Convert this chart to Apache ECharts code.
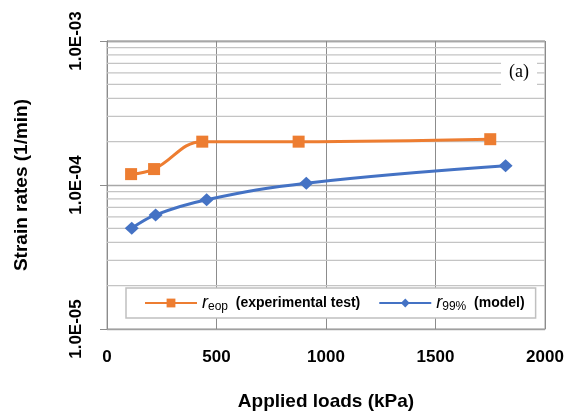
<!DOCTYPE html>
<html>
<head>
<meta charset="utf-8">
<script src="https://cdn.jsdelivr.net/npm/echarts@6/dist/echarts.min.js"></script>
<style>
html,body{margin:0;padding:0;background:#fff;}
#chart{width:566px;height:412px;}
</style>
</head>
<body>
<div id="chart"></div>
<script>
// Data
const eopLoads = [110, 215, 435, 875, 1750];
const eopRates = [1.19e-4, 1.29e-4, 2.0e-4, 2.0e-4, 2.08e-4];
const modelLoads = [113, 222, 455, 910, 1820];
const modelRates = [5.0e-5, 6.2e-5, 7.9e-5, 1.03e-4, 1.36e-4];
const seriesNames = ['eop', '99%'];
const legendTexts = ['(experimental test)', '(model)'];
const minorGrid = [2e-5, 3e-5, 4e-5, 5e-5, 6e-5, 7e-5, 8e-5, 9e-5,
                   2e-4, 3e-4, 4e-4, 5e-4, 6e-4, 7e-4, 8e-4, 9e-4];
const xTicks = {min: 0, max: 2000, interval: 500};
const yRange = {min: 1e-5, max: 1e-3};

const font = 'Liberation Sans';
const chart = echarts.init(document.getElementById('chart'), null, {renderer: 'canvas'});

function fmtExp(v) {
  const e = Math.round(Math.log10(v));
  const sign = e < 0 ? '-' : '+';
  return '1.0E' + sign + String(Math.abs(e)).padStart(2, '0');
}

// light minor grid lines of the log axis, drawn as plain line series
const minorSeries = minorGrid.map(v => ({
  name: 'grid-' + v,
  type: 'line',
  silent: true,
  z: 1,
  symbol: 'none',
  data: [[xTicks.min, v], [xTicks.max, v]],
  lineStyle: {color: '#c4c4c4', width: 1.3},
  emphasis: {disabled: true},
  tooltip: {show: false}
}));

chart.setOption({
  animation: false,
  backgroundColor: '#fff',
  title: {
    text: '(a)',
    right: 29,
    top: 58,
    padding: [5, 8, 6, 8],
    backgroundColor: '#fff',
    textStyle: {fontFamily: 'Liberation Serif', fontWeight: 'normal', fontSize: 18, color: '#000'}
  },
  grid: {
    left: 107, right: 21, top: 41, bottom: 83,
    outerBoundsMode: 'none',
    containLabel: false,
    show: true, borderColor: '#a0a0a0', borderWidth: 1
  },
  legend: {
    data: seriesNames,
    left: 126, top: 288,
    padding: [6, 11, 5, 18],
    itemGap: 18,
    itemWidth: 52, itemHeight: 11,
    backgroundColor: '#fff',
    borderColor: '#c0c0c0', borderWidth: 1.5,
    textStyle: {
      fontFamily: font, fontWeight: 'bold', fontSize: 14, color: '#000',
      rich: {
        r: {fontFamily: font, fontStyle: 'italic', fontWeight: 'normal', fontSize: 18, color: '#000', lineHeight: 20},
        s: {fontFamily: font, fontWeight: 'normal', fontSize: 12, color: '#000', verticalAlign: 'bottom', lineHeight: 12},
        b: {fontFamily: font, fontWeight: 'bold', fontSize: 14, color: '#000', lineHeight: 20}
      }
    },
    formatter: function (name) {
      const i = seriesNames.indexOf(name);
      return '{r|r}{s|' + name + '}  {b|' + legendTexts[i] + '}';
    }
  },
  xAxis: {
    type: 'value',
    min: xTicks.min, max: xTicks.max, interval: xTicks.interval,
    name: 'Applied loads (kPa)',
    nameLocation: 'middle',
    nameGap: 63,
    nameTextStyle: {fontFamily: font, fontWeight: 'bold', fontSize: 19, color: '#000'},
    axisLine: {show: true, lineStyle: {color: '#a0a0a0', width: 1}},
    axisTick: {show: false},
    axisLabel: {
      margin: 20, fontFamily: font, fontWeight: 'bold', fontSize: 17, color: '#000',
      formatter: v => String(v)
    },
    splitLine: {show: true, lineStyle: {color: '#8c8c8c', width: 1}}
  },
  yAxis: {
    type: 'log',
    logBase: 10,
    min: yRange.min, max: yRange.max,
    name: 'Strain rates (1/min)',
    nameLocation: 'middle',
    nameGap: 76,
    nameTextStyle: {fontFamily: font, fontWeight: 'bold', fontSize: 19, color: '#000'},
    axisLine: {show: true, lineStyle: {color: '#8c8c8c', width: 1}},
    axisTick: {show: true, length: 7, lineStyle: {color: '#8c8c8c'}},
    axisLabel: {
      rotate: 90, margin: 22,
      fontFamily: font, fontWeight: 'bold', fontSize: 17, color: '#000',
      formatter: fmtExp
    },
    splitLine: {show: true, lineStyle: {color: '#a8a8a8', width: 1.3}}
  },
  series: minorSeries.concat([
    {
      name: seriesNames[0],
      type: 'line',
      z: 3,
      smooth: 0.4,
      symbol: 'rect',
      symbolSize: 12,
      data: eopLoads.map((x, i) => [x, eopRates[i]]),
      itemStyle: {color: '#ED7D31'},
      lineStyle: {color: '#ED7D31', width: 3}
    },
    {
      name: seriesNames[1],
      type: 'line',
      z: 3,
      smooth: 0.4,
      symbol: 'diamond',
      symbolSize: [14, 13],
      data: modelLoads.map((x, i) => [x, modelRates[i]]),
      itemStyle: {color: '#4472C4'},
      lineStyle: {color: '#4472C4', width: 3}
    }
  ])
});
</script>
</body>
</html>
